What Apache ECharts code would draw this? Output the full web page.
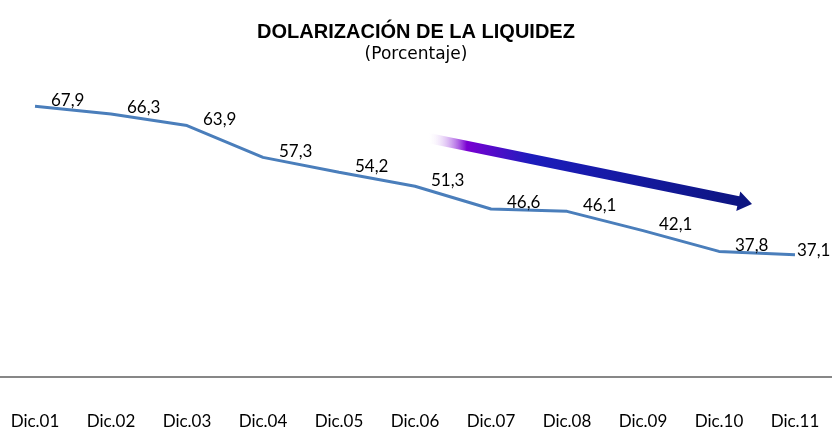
<!DOCTYPE html>
<html><head><meta charset="utf-8">
<script src="https://cdn.jsdelivr.net/npm/echarts@6/dist/echarts.min.js"></script>
<style>html,body{margin:0;padding:0;background:#fff}#c{width:832px;height:430px}</style>
</head><body><div id="c"></div>
<script>
const categories = ['Dic.01','Dic.02','Dic.03','Dic.04','Dic.05','Dic.06','Dic.07','Dic.08','Dic.09','Dic.10','Dic.11'];
const values = [67.9, 66.3, 63.9, 57.3, 54.2, 51.3, 46.6, 46.1, 42.1, 37.8, 37.1];

const chart = echarts.init(document.getElementById('c'));
// decorative trend arrow (annotation)
const x0 = 428, y0 = 138, x1 = 752, y1 = 204;
const dx = x1 - x0, dy = y1 - y0, L = Math.hypot(dx, dy);
const ux = dx / L, uy = dy / L, px = -uy, py = ux;
const hw = 5, hh = 10, hl = 14;
const bx = x1 - ux * hl, by = y1 - uy * hl;
const pts = [
  [x0 + px * hw, y0 + py * hw],
  [bx + px * hw, by + py * hw],
  [bx + px * hh, by + py * hh],
  [x1, y1],
  [bx - px * hh, by - py * hh],
  [bx - px * hw, by - py * hw],
  [x0 - px * hw, y0 - py * hw]
];
const seriesData = values.map((v, i) => i === values.length - 1
  ? { value: v, label: { position: [3, -3] } }
  : v);
chart.setOption({
  animation: false,
  title: {
    text: 'DOLARIZACIÓN DE LA LIQUIDEZ',
    subtext: '(Porcentaje)',
    left: 'center', top: 17, itemGap: 4,
    textStyle: { fontFamily: 'Liberation Sans', fontWeight: 'bold', fontSize: 20, color: '#000' },
    subtextStyle: { fontFamily: 'DejaVu Sans', fontSize: 17, color: '#000' }
  },
  grid: [
    { left: 35, right: 37, top: 72, bottom: 53 },
    { left: 0, right: 0, top: 72, bottom: 53 }
  ],
  xAxis: [{
    type: 'category', data: categories, boundaryGap: false, gridIndex: 0,
    axisLine: { show: false },
    axisTick: { show: false },
    axisLabel: { margin: 42, fontFamily: 'Lato', fontSize: 17, color: '#000' }
  }, {
    type: 'value', gridIndex: 1, min: 0, max: 1,
    axisLine: { show: true, lineStyle: { color: '#878787', width: 2 } },
    axisTick: { show: false }, axisLabel: { show: false }, splitLine: { show: false }
  }],
  yAxis: [
    { type: 'value', min: 13, max: 75, show: false, splitLine: { show: false }, gridIndex: 0 },
    { type: 'value', min: 0, max: 1, show: false, splitLine: { show: false }, gridIndex: 1 }
  ],
  graphic: [{
    type: 'polygon', z: 10,
    shape: { points: pts },
    style: {
      fill: new echarts.graphic.LinearGradient(x0, 0, x1, 0, [
        { offset: 0, color: 'rgba(255,255,255,0)' },
        { offset: 0.12, color: '#7a00d2' },
        { offset: 0.32, color: '#1c1cbc' },
        { offset: 1, color: '#0c157e' }
      ], true)
    }
  }],
  series: [{
    type: 'line', data: seriesData, symbol: 'circle', symbolSize: 2, showSymbol: true,
    itemStyle: { color: 'rgba(0,0,0,0)' },
    lineStyle: { color: '#4a7ebb', width: 3 },
    label: {
      show: true, position: [17, -5], align: 'left', verticalAlign: 'middle',
      fontFamily: 'Lato', fontSize: 17, color: '#000',
      formatter: p => p.value.toFixed(1).replace('.', ',')
    }
  }]
});
</script></body></html>
